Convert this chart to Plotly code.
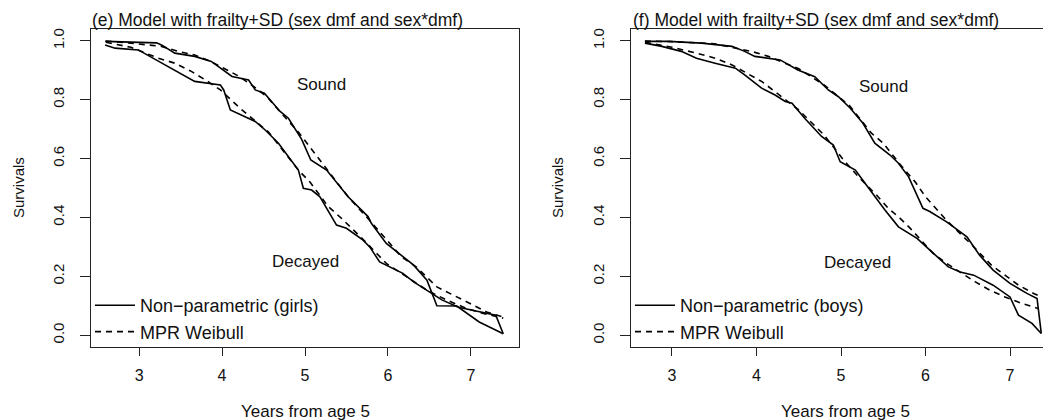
import plotly.graph_objects as go

# ---------------- data: panel (e) girls ----------------
g_sound_np_x = [2.59, 3.21, 3.27, 3.43, 3.67, 3.87, 4.12, 4.32, 4.40, 4.51, 4.70, 4.80, 4.96, 5.07, 5.26, 5.34, 5.52, 5.76, 5.80, 5.98, 6.16, 6.31, 6.47, 6.59, 6.83, 7.10, 7.39]
g_sound_np_y = [0.998, 0.993, 0.986, 0.958, 0.947, 0.930, 0.879, 0.867, 0.833, 0.822, 0.760, 0.737, 0.665, 0.595, 0.561, 0.533, 0.470, 0.403, 0.380, 0.312, 0.272, 0.238, 0.187, 0.100, 0.099, 0.045, 0.005]

g_dec_np_x = [2.59, 2.71, 2.99, 3.19, 3.67, 3.98, 4.02, 4.10, 4.40, 4.52, 4.68, 4.92, 4.98, 5.08, 5.18, 5.38, 5.50, 5.70, 5.78, 5.90, 6.06, 6.18, 6.31, 6.47, 6.65, 6.85, 7.10, 7.30, 7.39]
g_dec_np_y = [0.986, 0.975, 0.969, 0.938, 0.862, 0.850, 0.833, 0.765, 0.726, 0.697, 0.652, 0.561, 0.499, 0.493, 0.470, 0.374, 0.363, 0.323, 0.300, 0.249, 0.227, 0.210, 0.181, 0.153, 0.120, 0.095, 0.080, 0.068, 0.005]

g_sound_wb_x = [2.60, 2.87, 3.27, 3.47, 3.67, 3.86, 4.06, 4.20, 4.38, 4.54, 4.68, 4.92, 5.04, 5.18, 5.40, 5.52, 5.78, 6.16, 6.35, 6.59, 6.79, 6.99, 7.19, 7.39]
g_sound_wb_y = [0.999, 0.993, 0.981, 0.964, 0.952, 0.930, 0.901, 0.880, 0.845, 0.810, 0.765, 0.690, 0.646, 0.595, 0.516, 0.470, 0.390, 0.267, 0.230, 0.164, 0.136, 0.108, 0.079, 0.062]

g_dec_wb_x = [2.60, 2.90, 3.23, 3.43, 3.63, 3.80, 3.98, 4.24, 4.56, 4.68, 4.92, 5.06, 5.28, 5.44, 5.72, 5.98, 6.33, 6.47, 6.71, 6.95, 7.15, 7.39]
g_dec_wb_y = [0.995, 0.978, 0.941, 0.924, 0.896, 0.867, 0.833, 0.765, 0.690, 0.646, 0.561, 0.520, 0.437, 0.397, 0.320, 0.244, 0.181, 0.153, 0.119, 0.091, 0.074, 0.058]

# ---------------- data: panel (f) boys ----------------
b_sound_np_x = [2.68, 2.96, 3.35, 3.71, 3.86, 3.98, 4.28, 4.38, 4.49, 4.69, 4.85, 4.97, 5.11, 5.26, 5.40, 5.58, 5.68, 5.80, 5.97, 6.05, 6.25, 6.49, 6.64, 6.80, 7.00, 7.20, 7.32, 7.37]
b_sound_np_y = [0.998, 0.998, 0.992, 0.981, 0.964, 0.947, 0.935, 0.918, 0.901, 0.878, 0.833, 0.810, 0.771, 0.720, 0.652, 0.612, 0.584, 0.538, 0.431, 0.420, 0.385, 0.334, 0.272, 0.221, 0.176, 0.142, 0.125, 0.006]

b_dec_np_x = [2.68, 2.88, 3.11, 3.29, 3.51, 3.75, 3.86, 4.06, 4.22, 4.34, 4.42, 4.57, 4.77, 4.91, 4.99, 5.09, 5.17, 5.30, 5.52, 5.68, 5.90, 6.01, 6.27, 6.41, 6.57, 6.80, 7.00, 7.10, 7.26, 7.37]
b_dec_np_y = [0.992, 0.981, 0.964, 0.941, 0.924, 0.907, 0.884, 0.839, 0.816, 0.794, 0.788, 0.737, 0.675, 0.646, 0.589, 0.572, 0.561, 0.510, 0.425, 0.368, 0.329, 0.300, 0.232, 0.215, 0.204, 0.170, 0.130, 0.068, 0.040, 0.006]

b_sound_wb_x = [2.68, 3.00, 3.50, 3.94, 4.14, 4.50, 4.80, 5.10, 5.36, 5.50, 5.70, 5.88, 6.00, 6.11, 6.25, 6.53, 6.78, 6.94, 7.10, 7.28, 7.37]
b_sound_wb_y = [0.999, 0.997, 0.990, 0.964, 0.947, 0.905, 0.850, 0.780, 0.686, 0.652, 0.580, 0.520, 0.470, 0.436, 0.390, 0.312, 0.238, 0.204, 0.170, 0.142, 0.130]

b_dec_wb_x = [2.68, 3.00, 3.29, 3.51, 3.71, 3.88, 4.06, 4.22, 4.50, 4.80, 5.03, 5.20, 5.42, 5.56, 5.70, 5.82, 6.09, 6.25, 6.59, 6.76, 6.94, 7.14, 7.34]
b_dec_wb_y = [0.995, 0.978, 0.958, 0.941, 0.918, 0.890, 0.862, 0.827, 0.765, 0.680, 0.595, 0.540, 0.476, 0.431, 0.397, 0.363, 0.278, 0.244, 0.181, 0.153, 0.130, 0.108, 0.090]

x_ticks = [3, 4, 5, 6, 7]
y_ticks = [0.0, 0.2, 0.4, 0.6, 0.8, 1.0]

titles = ["(e) Model with frailty+SD (sex dmf and sex*dmf)",
          "(f) Model with frailty+SD (sex dmf and sex*dmf)"]
legend_np = ["Non\u2212parametric (girls)", "Non\u2212parametric (boys)"]
legend_wb = "MPR Weibull"
x_title = "Years from age 5"
y_title = "Survivals"

FONT = "Liberation Sans, Arial, Helvetica, sans-serif"
# the page body has an 8px margin; size the figure so it ends at the window edge
OFF = 8
W, H = 1051 - OFF, 420 - OFF

fig = go.Figure()

solid = dict(color="black", width=1.6)
dashed = dict(color="black", width=1.6, dash="6px,5px")

panels = [
    ("x", "y", "legend", legend_np[0],
     (g_sound_np_x, g_sound_np_y), (g_sound_wb_x, g_sound_wb_y),
     (g_dec_np_x, g_dec_np_y), (g_dec_wb_x, g_dec_wb_y)),
    ("x2", "y2", "legend2", legend_np[1],
     (b_sound_np_x, b_sound_np_y), (b_sound_wb_x, b_sound_wb_y),
     (b_dec_np_x, b_dec_np_y), (b_dec_wb_x, b_dec_wb_y)),
]

for xa, ya, lg, npname, snp, swb, dnp, dwb in panels:
    fig.add_trace(go.Scatter(x=dnp[0], y=dnp[1], mode="lines", line=solid,
                             name=npname, xaxis=xa, yaxis=ya, legend=lg))
    fig.add_trace(go.Scatter(x=dwb[0], y=dwb[1], mode="lines", line=dashed,
                             name=legend_wb, xaxis=xa, yaxis=ya, legend=lg))
    fig.add_trace(go.Scatter(x=snp[0], y=snp[1], mode="lines", line=solid,
                             showlegend=False, xaxis=xa, yaxis=ya, legend=lg))
    fig.add_trace(go.Scatter(x=swb[0], y=swb[1], mode="lines", line=dashed,
                             showlegend=False, xaxis=xa, yaxis=ya, legend=lg))

def px(v):
    return (v - OFF) / W

def py(v):
    return 1 - (v - OFF) / H

ydom = [py(347), py(29)]
axis_common = dict(showgrid=False, zeroline=False, showline=True,
                   linecolor="#222", linewidth=1, ticks="outside",
                   tickcolor="#222", tickwidth=1)
xfont = dict(family=FONT, size=16, color="#111")
yfont = dict(family=FONT, size=15, color="#111")

fig.update_layout(
    width=W, height=H,
    margin=dict(l=0, r=0, t=0, b=0),
    paper_bgcolor="white", plot_bgcolor="white",
    font=dict(family=FONT, color="#111"),
    xaxis=dict(domain=[px(91), px(519)], range=[2.42, 7.58], anchor="y",
               tickvals=x_ticks, ticklen=8, mirror=True, tickfont=xfont,
               ticklabelstandoff=6, **axis_common),
    yaxis=dict(domain=ydom, range=[-0.04, 1.04], anchor="x",
               tickvals=y_ticks, tickformat=".1f", ticklen=10, mirror=True,
               tickangle=-90, ticklabelstandoff=10, tickfont=yfont, **axis_common),
    xaxis2=dict(domain=[px(631), 1.0], range=[2.515, 7.485], anchor="y2",
                tickvals=x_ticks, ticklen=8, mirror=True, tickfont=xfont,
                ticklabelstandoff=6, **axis_common),
    yaxis2=dict(domain=ydom, range=[-0.04, 1.04], anchor="x2",
                tickvals=y_ticks, tickformat=".1f", ticklen=10, mirror=False,
                tickangle=-90, ticklabelstandoff=10, tickfont=yfont, **axis_common),
    legend=dict(x=px(90), y=py(287), xanchor="left", yanchor="top",
                bgcolor="rgba(0,0,0,0)", borderwidth=0,
                font=dict(family=FONT, size=18, color="#111"),
                itemwidth=40, tracegroupgap=0),
    legend2=dict(x=px(630), y=py(287), xanchor="left", yanchor="top",
                 bgcolor="rgba(0,0,0,0)", borderwidth=0,
                 font=dict(family=FONT, size=18, color="#111"),
                 itemwidth=40, tracegroupgap=0),
    showlegend=True,
)

ann = []
tfont = dict(family=FONT, size=17.5, color="#111")
lfont = dict(family=FONT, size=17, color="#111")
# panel titles
ann.append(dict(text=titles[0], xref="paper", yref="paper", x=px(90), y=py(20),
                xanchor="left", yanchor="middle", showarrow=False, font=tfont))
ann.append(dict(text=titles[1], xref="paper", yref="paper", x=px(631), y=py(20),
                xanchor="left", yanchor="middle", showarrow=False, font=tfont))
# axis titles
for cx in (305, 845):
    ann.append(dict(text=x_title, xref="paper", yref="paper", x=px(cx), y=py(411),
                    xanchor="center", yanchor="middle", showarrow=False, font=lfont))
for cx in (18, 557):
    ann.append(dict(text=y_title, xref="paper", yref="paper", x=px(cx), y=py(188),
                    xanchor="center", yanchor="middle", showarrow=False, textangle=-90,
                    font=dict(family=FONT, size=15, color="#111")))
# curve labels
ann.append(dict(text="Sound", xref="x", yref="y", x=5.2, y=0.85, showarrow=False, font=lfont))
ann.append(dict(text="Decayed", xref="x", yref="y", x=5.0, y=0.25, showarrow=False, font=lfont))
ann.append(dict(text="Sound", xref="x2", yref="y2", x=5.5, y=0.846, showarrow=False, font=lfont))
ann.append(dict(text="Decayed", xref="x2", yref="y2", x=5.2, y=0.248, showarrow=False, font=lfont))
fig.update_layout(annotations=ann)

fig.write_html("out.html")
